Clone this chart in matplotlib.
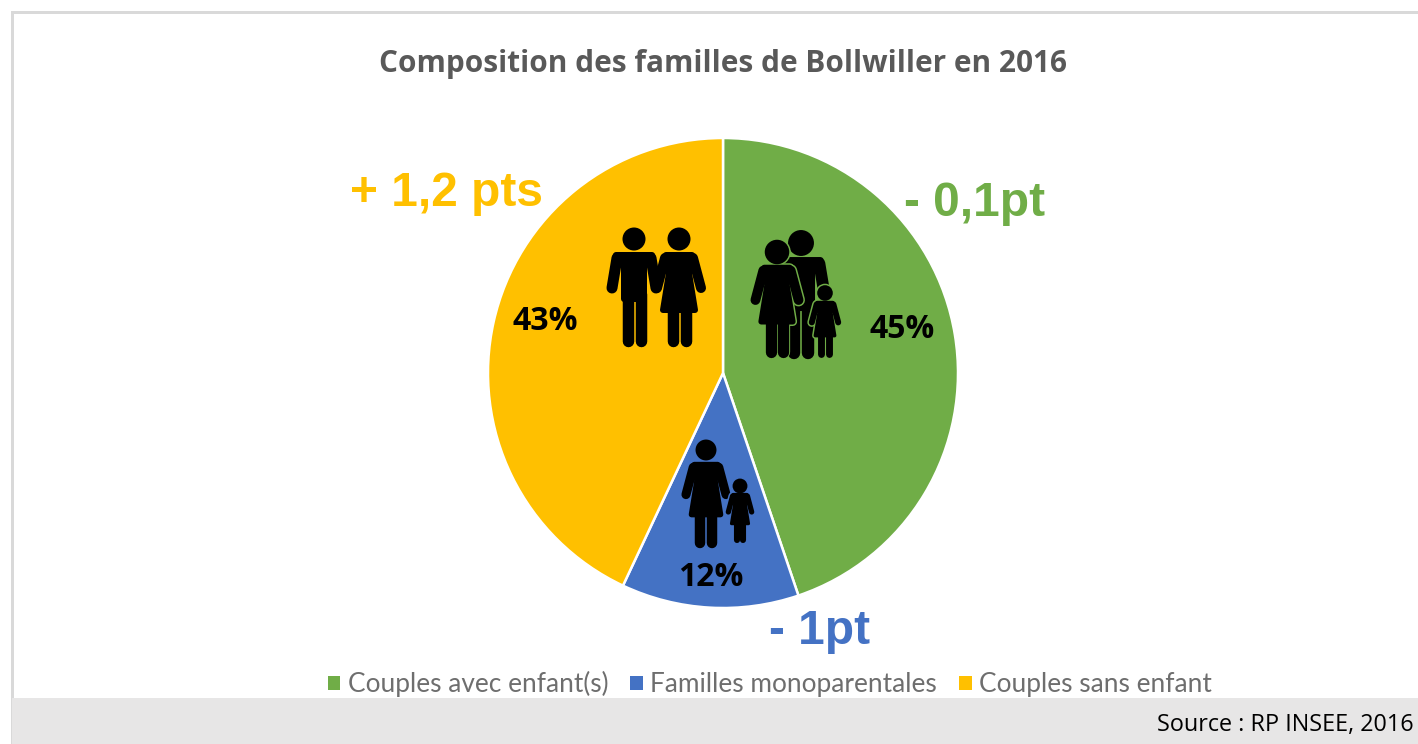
import matplotlib
matplotlib.use("Agg")
import matplotlib.pyplot as plt
from matplotlib.patches import Circle, Polygon, Rectangle, Patch

categories = ["Couples avec enfant(s)", "Familles monoparentales", "Couples sans enfant"]
values = [44.8, 12.2, 43.0]
colors = ["#70AD47", "#4472C4", "#FFC000"]
pct_labels = ["45%", "12%", "43%"]
evolutions = ["- 0,1pt", "- 1pt", "+ 1,2 pts"]

W, H = 1418, 744
px = 72 / 100  # pixels to points

fig = plt.figure(figsize=(W / 100, H / 100), dpi=100)

# background axes in image pixels
bg = fig.add_axes([0, 0, 1, 1], zorder=0)
bg.set_xlim(0, W)
bg.set_ylim(H, 0)
bg.axis("off")
bg.add_patch(Rectangle((12, 12), W, H, fc="white", ec="#D9D9D9", lw=3 * px))
bg.add_patch(Rectangle((12, 698), W, 46, fc="#E7E6E6", ec="none"))

# pie, centre (723,373) radius 235
cx, cy, r = 723, 373, 235
ax = fig.add_axes([(cx - r) / W, 1 - (cy + r) / H, 2 * r / W, 2 * r / H], zorder=1)
ax.pie(values, colors=colors, startangle=90, counterclock=False, radius=1,
       wedgeprops={"edgecolor": "white", "linewidth": 2.5 * px})
ax.set_xlim(-1, 1)
ax.set_ylim(-1, 1)

# overlay for icons and labels
top = fig.add_axes([0, 0, 1, 1], zorder=2)
top.set_xlim(0, W)
top.set_ylim(H, 0)
top.axis("off")
top.patch.set_alpha(0)


def limb(x0, y0, x1, y1, width, color="black", z=3):
    top.plot([x0, x1], [y0, y1], color=color, lw=width * px, solid_capstyle="round", zorder=z)


def body(x, y, s, pts, color, extra, zz):
    # rounded corners come from the thick round-joined edge
    top.add_patch(Polygon([(x + a * s, y + b * s) for a, b in pts], closed=True, fc=color, ec=color,
                          lw=(6 * s + extra * 2) * px, joinstyle="round", zorder=zz))


def man(x, y, s, head=11.5, halo=None, z=3):
    def draw(color, extra, zz):
        top.add_patch(Circle((x, y), head * s + extra, fc=color, ec="none", zorder=zz))
        body(x, y, s, [(-18, 16), (18, 16), (10, 28), (10, 60), (-10, 60), (-10, 28)], color, extra, zz)
        for sign in (-1, 1):
            limb(x + sign * 17 * s, y + 19 * s, x + sign * 22 * s, y + 49 * s, 11 * s + extra * 2, color, zz)
            limb(x + sign * 6.5 * s, y + 55 * s, x + sign * 6.5 * s, y + 102 * s, 11.5 * s + extra * 2, color, zz)
    if halo:
        draw(halo, 1.5, z)
    draw("black", 0, z + 0.1)


def woman(x, y, s, head=11.5, halo=None, z=3):
    def draw(color, extra, zz):
        top.add_patch(Circle((x, y), head * s + extra, fc=color, ec="none", zorder=zz))
        body(x, y, s, [(-13, 16), (13, 16), (10, 34), (16, 71), (-16, 71), (-10, 34)], color, extra, zz)
        for sign in (-1, 1):
            limb(x + sign * 14 * s, y + 19 * s, x + sign * 22 * s, y + 49 * s, 10 * s + extra * 2, color, zz)
            limb(x + sign * 6.5 * s, y + 70 * s, x + sign * 6.5 * s, y + 102 * s, 11.5 * s + extra * 2, color, zz)
    if halo:
        draw(halo, 1.5, z)
    draw("black", 0, z + 0.1)


# couple sans enfant
man(634, 239, 1.0)
woman(679, 239, 1.0)
# couple avec enfants
man(801, 243, 1.08, head=12, z=3)
woman(777, 252, 0.98, head=12.5, halo=colors[0], z=4)
woman(825, 293, 0.6, head=13, halo=colors[0], z=5)
# famille monoparentale
woman(706, 450, 0.91, head=11.5)
woman(740, 486, 0.53, head=14, halo=colors[1], z=4)

bold = {"family": "Open Sans", "weight": "bold", "ha": "center", "va": "center", "color": "black"}
for label, pos in zip(pct_labels, [(902, 329), (711, 577), (545, 321)]):
    top.text(pos[0], pos[1], label, fontsize=23, zorder=6, **bold)

evo = {"family": "Liberation Sans", "weight": "bold", "ha": "center", "va": "center", "fontsize": 34.5}
for label, pos, c in zip(evolutions, [(975, 203), (820, 631), (446, 194)], colors):
    top.text(pos[0], pos[1], label, color=c, zorder=6, **evo)

top.text(723, 64, "Composition des familles de Bollwiller en 2016", family="Open Sans",
         weight="bold", fontsize=21.4, color="#595959", ha="center", va="center")
top.text(1414, 725, "Source : RP INSEE, 2016", family="Open Sans", fontsize=16.8,
         color="black", ha="right", va="center")

handles = [Patch(fc=c, ec="none") for c in colors]
fig.legend(handles, categories, ncol=3, loc="center", bbox_to_anchor=(770 / W, 1 - 684 / H),
           frameon=False, handlelength=0.46, handleheight=0.46, handletextpad=0.3,
           columnspacing=0.85, prop={"family": "Lato", "size": 18.9},
           labelcolor="#6E6E6E")

fig.savefig("out.png", dpi=100)
